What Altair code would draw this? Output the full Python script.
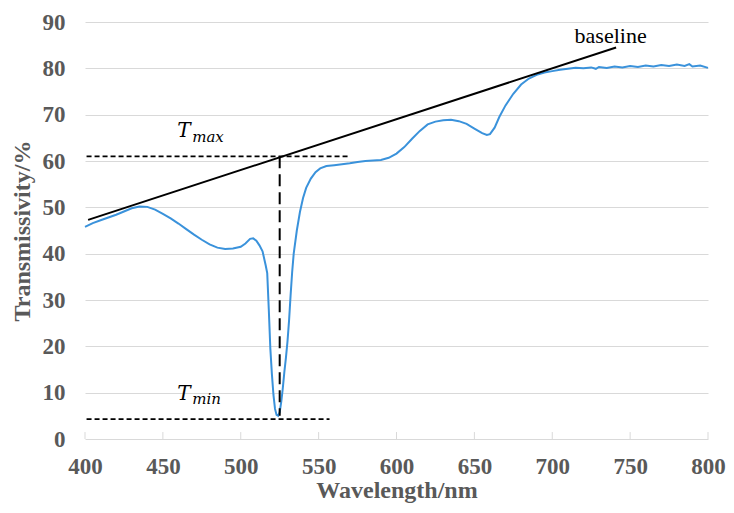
import altair as alt
import pandas as pd

# Transmission spectrum
wavelength = [400, 405, 410, 415, 420, 425, 430, 435, 440, 445, 450, 455, 460, 465, 470,
              475, 480, 485, 490, 495, 500, 503, 506, 508, 510, 512, 514, 516, 517, 518,
              519, 520, 521, 522, 523, 524, 525, 526, 527, 528, 529, 530, 531, 532, 533,
              534, 536, 538, 540, 542, 545, 548, 551, 555, 560, 565, 570, 575, 580, 585,
              590, 595, 600, 605, 610, 615, 620, 625, 630, 635, 640, 645, 650, 655, 658,
              660, 663, 666, 670, 675, 680, 685, 690, 695, 700, 705, 710, 715, 720, 725,
              728, 730, 735, 740, 745, 750, 755, 760, 765, 770, 775, 780, 785, 788, 790,
              795, 800]
transmissivity = [45.8, 46.6, 47.2, 47.8, 48.4, 49.1, 49.8, 50.2, 50.1, 49.5, 48.6, 47.6, 46.5, 45.3, 44.1,
                  43.0, 42.0, 41.3, 41.0, 41.1, 41.5, 42.2, 43.2, 43.3, 42.8, 41.8, 40.5, 37.5, 35.8, 28.0,
                  19.5, 14.0, 9.5, 6.5, 5.2, 5.0, 5.8, 8.0, 11.0, 14.5, 17.5, 21.0, 25.5, 31.0, 36.0,
                  40.0, 45.0, 49.0, 52.0, 54.2, 56.2, 57.6, 58.4, 58.9, 59.1, 59.3, 59.5, 59.8, 60.0, 60.1,
                  60.2, 60.7, 61.6, 63.0, 64.8, 66.5, 67.9, 68.5, 68.8, 68.9, 68.6, 68.0, 67.0, 66.0, 65.6,
                  65.8, 67.2, 69.5, 72.0, 74.5, 76.5, 77.8, 78.6, 79.1, 79.4, 79.7, 79.9, 80.1, 80.0, 80.2,
                  79.9, 80.3, 80.1, 80.4, 80.2, 80.5, 80.3, 80.6, 80.4, 80.7, 80.5, 80.8, 80.5, 80.9, 80.4,
                  80.6, 80.1]

# Annotation lines
baseline_x = [402, 741]
baseline_y = [47.3, 84.5]
tmax_x = [401, 569]
tmax_y = 61.0
tmin_x = [401, 557]
tmin_y = 4.3
peak_x = 525
peak_y = [61.0, 5.0]

x_ticks = [400, 450, 500, 550, 600, 650, 700, 750, 800]
y_ticks = [0, 10, 20, 30, 40, 50, 60, 70, 80, 90]

FONT = "Liberation Serif"
GRAY = "#595959"

spec = pd.DataFrame({"w": wavelength, "t": transmissivity})

xs = alt.Scale(domain=[400, 800], nice=False, zero=False)
ys = alt.Scale(domain=[0, 90], nice=False, zero=True)

X = alt.X("w:Q", scale=xs,
          axis=alt.Axis(values=x_ticks, title="Wavelength/nm", grid=False, domain=False, ticks=False,
                        tickSize=0, labelPadding=16, titlePadding=0, format="d", labelFlush=False))
Y = alt.Y("t:Q", scale=ys,
          axis=alt.Axis(values=y_ticks, title="Transmissivity/%", grid=True, domain=False, ticks=False,
                        tickSize=0, labelPadding=20, titlePadding=8, format="d", labelFlush=False))

curve = alt.Chart(spec).mark_line(color="#3a92db", strokeWidth=2).encode(x=X, y=Y)

ticks_df = pd.DataFrame({"w": x_ticks, "y0": [0] * len(x_ticks), "y1": [1.5] * len(x_ticks)})
tick_marks = alt.Chart(ticks_df).mark_rule(color="#d9d9d9", strokeWidth=1).encode(
    x=alt.X("w:Q", scale=xs), y=alt.Y("y0:Q", scale=ys), y2="y1:Q")

base_df = pd.DataFrame({"x0": [baseline_x[0]], "x1": [baseline_x[1]],
                        "y0": [baseline_y[0]], "y1": [baseline_y[1]]})
base_line = alt.Chart(base_df).mark_rule(color="black", strokeWidth=2).encode(
    x=alt.X("x0:Q", scale=xs), x2="x1:Q", y=alt.Y("y0:Q", scale=ys), y2="y1:Q")

hdf = pd.DataFrame({"x0": [tmax_x[0], tmin_x[0]], "x1": [tmax_x[1], tmin_x[1]],
                    "y": [tmax_y, tmin_y]})
hlines = alt.Chart(hdf).mark_rule(color="black", strokeWidth=1.6, strokeDash=[5, 3]).encode(
    x=alt.X("x0:Q", scale=xs), x2="x1:Q", y=alt.Y("y:Q", scale=ys))

vdf = pd.DataFrame({"x": [peak_x], "y0": [peak_y[0]], "y1": [peak_y[1]]})
vline = alt.Chart(vdf).mark_rule(color="black", strokeWidth=2, strokeDash=[12, 6]).encode(
    x=alt.X("x:Q", scale=xs), y=alt.Y("y0:Q", scale=ys), y2="y1:Q")

T_df = pd.DataFrame({"x": [463.5, 463.5], "y": [65.2, 8.4], "s": ["T", "T"]})
T_text = alt.Chart(T_df).mark_text(font="DejaVu Serif", fontStyle="italic", fontSize=20,
                                   color="black", align="center", baseline="alphabetic").encode(
    x=alt.X("x:Q", scale=xs), y=alt.Y("y:Q", scale=ys), text="s:N")

sub_df = pd.DataFrame({"x": [468.8, 468.8], "y": [64.2, 7.6], "s": ["max", "min"]})
sub_text = alt.Chart(sub_df).mark_text(font="DejaVu Serif", fontStyle="italic", fontSize=15,
                                       color="black", align="left", baseline="alphabetic").encode(
    x=alt.X("x:Q", scale=xs), y=alt.Y("y:Q", scale=ys), text="s:N")

lab_df = pd.DataFrame({"x": [737.5], "y": [85.5], "s": ["baseline"]})
lab_text = alt.Chart(lab_df).mark_text(font=FONT, fontSize=22, color="black",
                                       align="center", baseline="alphabetic").encode(
    x=alt.X("x:Q", scale=xs), y=alt.Y("y:Q", scale=ys), text="s:N")

chart = alt.layer(tick_marks, curve, base_line, hlines, vline, T_text, sub_text, lab_text).properties(
    width=623, height=417,
    autosize=alt.AutoSizeParams(type="none"),
    padding={"left": 77, "top": 14, "right": 18, "bottom": 64},
).configure_view(stroke=None).configure_axis(
    labelFont=FONT, labelFontSize=23, labelFontWeight="bold", labelColor=GRAY,
    titleFont=FONT, titleFontSize=24, titleFontWeight="bold", titleColor=GRAY,
    gridColor="#d9d9d9", gridWidth=1,
)

chart.save("out.html", embed_options={"renderer": "svg", "actions": False})
